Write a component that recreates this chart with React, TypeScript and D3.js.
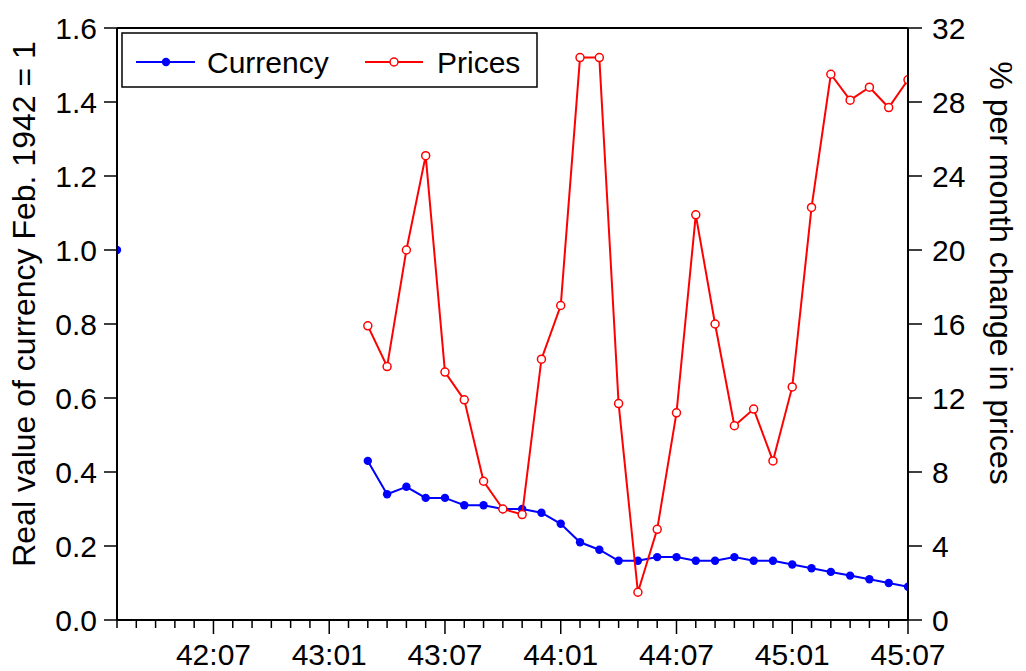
import React from "react";
import * as d3 from "d3";

// months from 42:02 to 45:07
const months = d3.timeMonth
  .range(new Date(1942, 1, 1), new Date(1945, 7, 1))
  .map(d3.timeFormat("%y:%m"));

const N = null;
// real value of currency, Feb. 1942 = 1 (left axis)
const currency: (number | null)[] = [
  1.0, N, N, N, N, N, N, N, N, N, N, N, N,
  0.43, 0.34, 0.36, 0.33, 0.33, 0.31, 0.31, 0.3, 0.3, 0.29, 0.26, 0.21,
  0.19, 0.16, 0.16, 0.17, 0.17, 0.16, 0.16, 0.17, 0.16, 0.16, 0.15,
  0.14, 0.13, 0.12, 0.11, 0.1, 0.09
];
// % per month change in prices (right axis)
const prices: (number | null)[] = [
  N, N, N, N, N, N, N, N, N, N, N, N, N,
  15.9, 13.7, 20.0, 25.1, 13.4, 11.9, 7.5, 6.0, 5.7, 14.1, 17.0, 30.4,
  30.4, 11.7, 1.5, 4.9, 11.2, 21.9, 16.0, 10.5, 11.4, 8.6, 12.6,
  22.3, 29.5, 28.1, 28.8, 27.7, 29.2
];
const leftTicks = [0, 0.2, 0.4, 0.6, 0.8, 1.0, 1.2, 1.4, 1.6];
const rightTicks = [0, 4, 8, 12, 16, 20, 24, 28, 32];
const majorLabels = ["42:07", "43:01", "43:07", "44:01", "44:07", "45:01", "45:07"];

const W = 1026;
const H = 671;
const L = 117;
const R = 908;
const T = 28;
const B = 620;
const font = "'Liberation Sans', Arial, sans-serif";

export default function App() {
  const x = d3.scaleLinear().domain([0, months.length - 1]).range([L, R]);
  const yL = d3.scaleLinear().domain([0, 1.6]).range([B, T]);
  const yR = d3.scaleLinear().domain([0, 32]).range([B, T]);

  const lineL = d3
    .line<number | null>()
    .defined((d) => d != null)
    .x((_, i) => x(i))
    .y((d) => yL(d as number));
  const lineR = d3
    .line<number | null>()
    .defined((d) => d != null)
    .x((_, i) => x(i))
    .y((d) => yR(d as number));

  return (
    <svg
      width={W}
      height={H}
      style={{ position: "absolute", left: 0, top: 0, background: "#fff" }}
      fontFamily={font}
    >
      <defs>
        <clipPath id="plot">
          <rect x={L} y={T - 6} width={R - L} height={B - T + 12} />
        </clipPath>
      </defs>

      {/* series */}
      <g clipPath="url(#plot)">
        <path d={lineL(currency) || ""} fill="none" stroke="#0000ff" strokeWidth={2} />
        {currency.map((d, i) =>
          d == null ? null : (
            <circle key={"c" + i} cx={x(i)} cy={yL(d)} r={4.2} fill="#0000ff" />
          )
        )}
        <path d={lineR(prices) || ""} fill="none" stroke="#ff0000" strokeWidth={2} />
        {prices.map((d, i) =>
          d == null ? null : (
            <circle
              key={"p" + i}
              cx={x(i)}
              cy={yR(d)}
              r={4}
              fill="#fff"
              stroke="#ff0000"
              strokeWidth={1.5}
            />
          )
        )}
      </g>

      {/* frame */}
      <line x1={L} x2={R} y1={T} y2={T} stroke="#000" strokeWidth={2} />
      <line x1={L} x2={R} y1={B} y2={B} stroke="#000" strokeWidth={2} />
      <line x1={L} x2={L} y1={T} y2={B} stroke="#000" strokeWidth={2} />
      <line x1={R} x2={R} y1={T} y2={B} stroke="#000" strokeWidth={2} />

      {/* left axis */}
      {leftTicks.map((t) => (
        <g key={"l" + t}>
          <line x1={L - 13} x2={L} y1={yL(t)} y2={yL(t)} stroke="#000" strokeWidth={1.5} />
          <text
            x={L - 20}
            y={yL(t)}
            dy="0.36em"
            textAnchor="end"
            fontSize={30}
            fill="#000"
          >
            {t.toFixed(1)}
          </text>
        </g>
      ))}

      {/* right axis */}
      {rightTicks.map((t) => (
        <g key={"r" + t}>
          <line x1={R} x2={R + 14} y1={yR(t)} y2={yR(t)} stroke="#000" strokeWidth={1.5} />
          <text x={R + 24} y={yR(t)} dy="0.36em" fontSize={30} fill="#000">
            {t}
          </text>
        </g>
      ))}

      {/* bottom axis */}
      {months.map((m, i) => {
        const major = majorLabels.includes(m);
        return (
          <g key={"b" + i}>
            <line
              x1={x(i)}
              x2={x(i)}
              y1={B}
              y2={B + (major ? 14 : 8)}
              stroke="#000"
              strokeWidth={1.5}
            />
            {major && (
              <text x={x(i)} y={B + 45} textAnchor="middle" fontSize={30} fill="#000">
                {m}
              </text>
            )}
          </g>
        );
      })}

      {/* axis titles */}
      <text
        transform="translate(35,304) rotate(-90)"
        textAnchor="middle"
        fontSize={32}
        fill="#000"
      >
        Real value of currency Feb. 1942 = 1
      </text>
      <text
        transform="translate(990,273) rotate(90)"
        textAnchor="middle"
        fontSize={32}
        fill="#000"
      >
        % per month change in prices
      </text>

      {/* legend */}
      <rect x={122} y={33} width={415} height={54} fill="#fff" stroke="#000" strokeWidth={1.5} />
      <line x1={136} x2={195} y1={62} y2={62} stroke="#0000ff" strokeWidth={2} />
      <circle cx={166} cy={62} r={4.2} fill="#0000ff" />
      <text x={207} y={62} dy="0.36em" fontSize={30} fill="#000">
        Currency
      </text>
      <line x1={365} x2={423} y1={62} y2={62} stroke="#ff0000" strokeWidth={2} />
      <circle cx={394} cy={62} r={4} fill="#fff" stroke="#ff0000" strokeWidth={1.5} />
      <text x={437} y={62} dy="0.36em" fontSize={30} fill="#000">
        Prices
      </text>
    </svg>
  );
}
